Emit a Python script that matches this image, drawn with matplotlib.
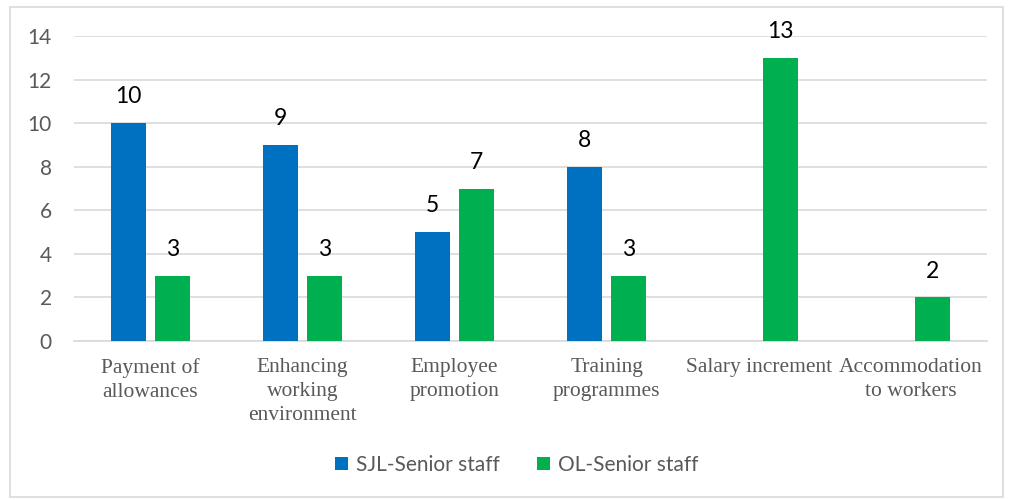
import matplotlib
matplotlib.use("Agg")
import matplotlib.pyplot as plt
import numpy as np
from matplotlib.patches import Rectangle

categories = ["Payment of\nallowances", "Enhancing\nworking\nenvironment", "Employee\npromotion",
              "Training\nprogrammes", "Salary increment", "Accommodation\nto workers"]
sjl = [10, 9, 5, 8, None, None]
ol = [3, 3, 7, 3, 13, 2]
series_names = ["SJL-Senior staff", "OL-Senior staff"]
yticks = [0, 2, 4, 6, 8, 10, 12, 14]

blue = "#0070C0"
green = "#00B050"
grid_c = "#D9D9D9"
txt_c = "#595959"

fig = plt.figure(figsize=(10.1, 5.0), dpi=100)
fig.patches.append(Rectangle((10/1010, 3/500), 993/1010, 490/500, transform=fig.transFigure,
                             fill=False, edgecolor="#D9D9D9", linewidth=1.2))
ax = fig.add_axes([74/1010, 1 - 341/500, (987-74)/1010, (341-36)/500])

x = np.arange(len(categories))
w = 0.23
off = 0.145
sjl_vals = [np.nan if v is None else v for v in sjl]
b1 = ax.bar(x - off, sjl_vals, w, color=blue, label=series_names[0], zorder=3)
b2 = ax.bar(x + off, ol, w, color=green, label=series_names[1], zorder=3)

for xi, v in zip(x, sjl):
    if v is not None:
        ax.text(xi - off, v + 0.72, str(v), ha="center", va="bottom", fontsize=16.5,
                family="Lato", color="black")
for xi, v in zip(x, ol):
    ax.text(xi + off, v + 0.72, str(v), ha="center", va="bottom", fontsize=16.5,
            family="Lato", color="black")

ax.set_xlim(-0.5, len(categories) - 0.5)
ax.set_ylim(0, 14)
ax.set_yticks(yticks)
ax.set_yticklabels([str(t) for t in yticks], family="Lato", fontsize=15, color=txt_c)
ax.set_xticks(x)
ax.set_xticklabels(categories, family="Liberation Serif", fontsize=15.5, color=txt_c,
                   linespacing=1.36, va="top")
ax.tick_params(axis="both", length=0)
ax.tick_params(axis="x", pad=12.5)
ax.tick_params(axis="y", pad=16)
ax.yaxis.grid(True, color=grid_c, linewidth=1.2, zorder=0)
ax.set_axisbelow(True)
for s in ["top", "right", "left"]:
    ax.spines[s].set_visible(False)
ax.spines["bottom"].set_color(grid_c)
ax.spines["bottom"].set_linewidth(1.2)

leg = fig.legend(handles=[b1, b2], labels=series_names, loc="center",
                 bbox_to_anchor=(517/1010, 1 - 465/500), ncol=2, frameon=False,
                 prop={"family": "Lato", "size": 15}, handlelength=0.6, handleheight=0.6,
                 handletextpad=0.4, columnspacing=1.8)
for t in leg.get_texts():
    t.set_color(txt_c)

fig.savefig("out.png", dpi=100)
